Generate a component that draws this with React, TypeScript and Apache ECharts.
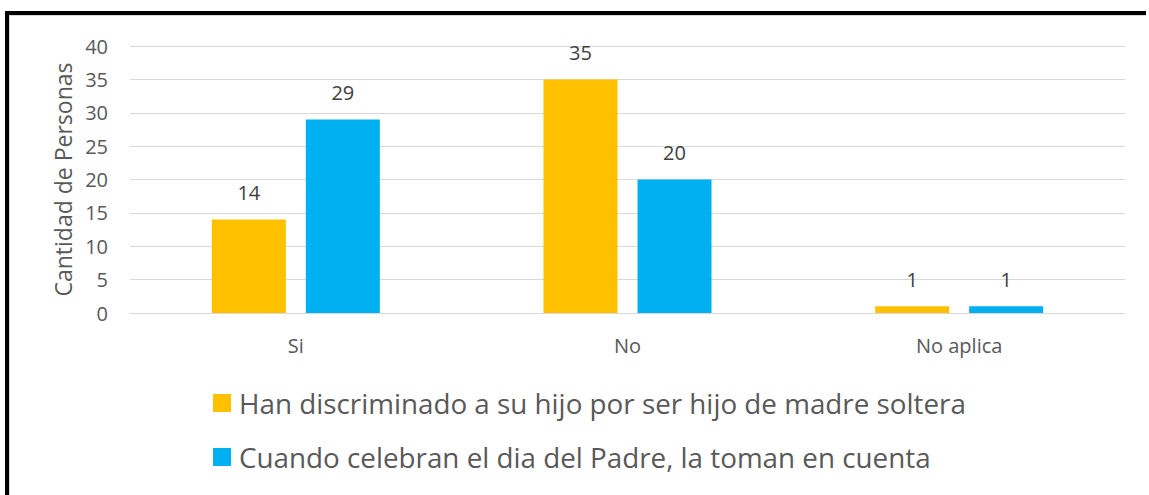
import React, { useEffect, useRef } from "react";
import * as echarts from "echarts";

const categories = ["Si", "No", "No aplica"];
const seriesNames = [
  "Han discriminado a su hijo por ser hijo de madre soltera",
  "Cuando celebran el dia del Padre, la toman en cuenta",
];
const discriminado = [14, 35, 1];
const diaPadre = [29, 20, 1];
const yTicks = { min: 0, max: 40, interval: 5 };
const yName = "Cantidad de Personas";

const FONT = "'Open Sans', 'Noto Sans', sans-serif";

export default function App() {
  const ref = useRef<HTMLDivElement>(null);
  useEffect(() => {
    if (!ref.current) return;
    const chart = echarts.init(ref.current, null, { renderer: "svg" });
    chart.setOption({
      animation: false,
      textStyle: { fontFamily: FONT },
      grid: { left: 130, right: 24, top: 46, bottom: 182 },
      graphic: [
        { type: "rect", shape: { x: 5, y: 11, width: 1141, height: 4 }, style: { fill: "#000" } },
        { type: "rect", shape: { x: 5, y: 11, width: 4, height: 484 }, style: { fill: "#000" } },
        { type: "rect", shape: { x: 9, y: 15, width: 1137, height: 1 }, style: { fill: "#d9d9d9" } },
        { type: "rect", shape: { x: 9, y: 15, width: 1, height: 480 }, style: { fill: "#d9d9d9" } },
      ],
      legend: {
        orient: "vertical",
        left: 208,
        top: 384,
        itemWidth: 18,
        itemHeight: 18,
        itemGap: 26,
        icon: "rect",
        textStyle: { fontSize: 27.8, color: "#595959", fontFamily: FONT, padding: [0, 0, 0, 3] },
        data: seriesNames,
      },
      xAxis: {
        type: "category",
        data: categories,
        axisLine: { lineStyle: { color: "#d9d9d9", width: 1 } },
        axisTick: { show: false },
        axisLabel: { color: "#595959", fontSize: 20, margin: 22, fontFamily: FONT },
      },
      yAxis: {
        type: "value",
        min: yTicks.min,
        max: yTicks.max,
        interval: yTicks.interval,
        name: yName,
        nameLocation: "middle",
        nameGap: 56,
        nameTextStyle: { color: "#595959", fontSize: 23, fontFamily: FONT },
        axisLine: { show: false },
        axisTick: { show: false },
        axisLabel: { color: "#595959", fontSize: 20, margin: 22, fontFamily: FONT },
        splitLine: { lineStyle: { color: "#d9d9d9", width: 1 } },
      },
      series: [
        {
          name: seriesNames[0],
          type: "bar",
          data: discriminado,
          barWidth: 74,
          barGap: "27%",
          itemStyle: { color: "#FFC000" },
          label: { show: true, position: "top", distance: 17, color: "#404040", fontSize: 20, fontFamily: FONT },
        },
        {
          name: seriesNames[1],
          type: "bar",
          data: diaPadre,
          barWidth: 74,
          itemStyle: { color: "#00B0F0" },
          label: { show: true, position: "top", distance: 17, color: "#404040", fontSize: 20, fontFamily: FONT },
        },
      ],
    });
    return () => chart.dispose();
  }, []);
  return <div ref={ref} style={{ width: 1149, height: 495, position: "absolute", left: 0, top: 0 }} />;
}
